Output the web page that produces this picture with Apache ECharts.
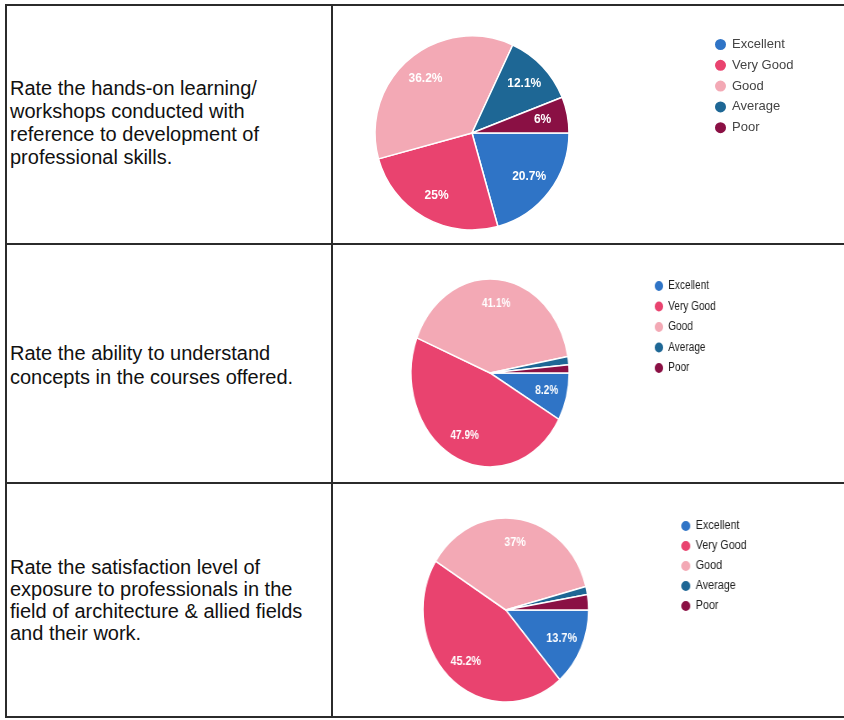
<!DOCTYPE html>
<html>
<head>
<meta charset="utf-8">
<title>Feedback pies</title>
<script src="https://cdn.jsdelivr.net/npm/echarts@6/dist/echarts.min.js"></script>
<style>
  html, body { margin: 0; padding: 0; background: #fff; }
  body {
    width: 844px; height: 720px; position: relative; overflow: hidden;
    font-family: "Liberation Sans", Arial, sans-serif;
  }
  .line { position: absolute; background: #2b2b2b; }
  .question { position: absolute; left: 10px; font-size: 20px; color: #111; white-space: nowrap; }
  .chart { position: absolute; transform-origin: 0 0; }
</style>
</head>
<body>

<!-- table frame -->
<div class="line" style="left:5px; top:4px; width:839px; height:2px"></div>
<div class="line" style="left:5px; top:243px; width:839px; height:2px"></div>
<div class="line" style="left:5px; top:482px; width:839px; height:2px"></div>
<div class="line" style="left:5px; top:716px; width:839px; height:2px"></div>
<div class="line" style="left:5px; top:4px; width:2px; height:714px"></div>
<div class="line" style="left:331px; top:4px; width:2px; height:714px"></div>

<div id="q1" class="question"></div>
<div id="q2" class="question"></div>
<div id="q3" class="question"></div>

<div id="chart1" class="chart"></div>
<div id="chart2" class="chart"></div>
<div id="chart3" class="chart"></div>

<script>
// 评分类别
const categories = ['Excellent', 'Very Good', 'Good', 'Average', 'Poor']
const colors = ['#2f74c6', '#e9436f', '#f3a9b5', '#1e6795', '#8a1044']

// 各题的百分比
const workshopValues = [20.7, 25, 36.2, 12.1, 6]
const conceptValues = [8.2, 47.9, 41.1, 1.4, 1.4]
const exposureValues = [13.7, 45.2, 37, 1.4, 2.7]

// 左列问题文字
const workshopQuestion = [
  'Rate the hands-on learning/',
  'workshops conducted with',
  'reference to development of',
  'professional skills.'
]
const conceptQuestion = [
  'Rate the ability to understand',
  'concepts in the courses offered.'
]
const exposureQuestion = [
  'Rate the satisfaction level of',
  'exposure to professionals in the',
  'field of architecture & allied fields',
  'and their work.'
]

const setQuestion = (id, lines, top, lineHeight) => {
  const el = document.getElementById(id)
  el.style.top = top + 'px'
  el.style.lineHeight = lineHeight + 'px'
  el.innerHTML = lines.join('<br>')
}
setQuestion('q1', workshopQuestion, 77, 23)
setQuestion('q2', conceptQuestion, 341, 24)
setQuestion('q3', exposureQuestion, 556, 22)

// 扫描件里第二、三张图被横向压缩，用 scaleX 模拟
const rows = [
  { id: 'chart1', values: workshopValues, left: 333, top: 6, sx: 1, center: [139, 127], r: 97,
    legendLeft: 380, legendTop: 31, icon: 13, legendFont: 13, legendColor: '#444', gap: 5.8 },
  { id: 'chart2', values: conceptValues, left: 333, top: 245, sx: 0.84, center: [187, 128], r: 94,
    legendLeft: 381, legendTop: 34, icon: 12, legendFont: 12, legendColor: '#222', gap: 6.5 },
  { id: 'chart3', values: exposureValues, left: 333, top: 484, sx: 0.9, center: [192, 126], r: 92,
    legendLeft: 385, legendTop: 35, icon: 12, legendFont: 12, legendColor: '#222', gap: 6 }
]

const charts = rows.map(row => {
  const el = document.getElementById(row.id)
  el.style.left = row.left + 'px'
  el.style.top = row.top + 'px'
  el.style.width = Math.round((844 - row.left) / row.sx) + 'px'
  el.style.height = '236px'
  el.style.transform = 'scaleX(' + row.sx + ')'

  const chart = echarts.init(el, null, { renderer: 'canvas' })
  const data = categories.map((name, i) => ({ name, value: row.values[i] }))

  const option = {
    animation: false,
    color: colors,
    legend: {
      orient: 'vertical',
      left: row.legendLeft,
      top: row.legendTop,
      padding: 0,
      icon: 'circle',
      itemWidth: row.icon,
      itemHeight: row.icon,
      itemGap: row.gap,
      data: categories,
      textStyle: {
        fontFamily: 'Liberation Sans, Arial, sans-serif',
        fontSize: row.legendFont,
        lineHeight: row.icon,
        color: row.legendColor
      }
    },
    series: [
      {
        name: 'slices',
        type: 'pie',
        center: row.center,
        radius: row.r,
        startAngle: 0,
        clockwise: true,
        avoidLabelOverlap: false,
        label: { show: false },
        labelLine: { show: false },
        itemStyle: { borderColor: '#fff', borderWidth: 1.5 },
        emphasis: { disabled: true },
        data: data
      },
      {
        // 透明的大饼，只用来把百分比放在约 0.7 半径处
        name: 'labels',
        type: 'pie',
        silent: true,
        center: row.center,
        radius: row.r * 1.42,
        startAngle: 0,
        clockwise: true,
        avoidLabelOverlap: false,
        itemStyle: { color: 'rgba(0,0,0,0)' },
        labelLine: { show: false },
        label: {
          show: true,
          position: 'inside',
          color: '#fff',
          fontSize: 12,
          fontWeight: 'bold',
          fontFamily: 'Liberation Sans, Arial, sans-serif',
          formatter: p => (p.value >= 3 ? p.value + '%' : '')
        },
        data: data
      }
    ]
  }
  chart.setOption(option)
  return chart
})
</script>
</body>
</html>
